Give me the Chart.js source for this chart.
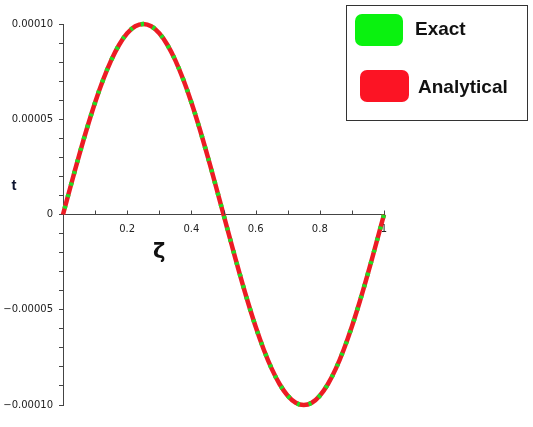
<!DOCTYPE html>
<html><head><meta charset="utf-8">
<script src="https://cdn.jsdelivr.net/npm/chart.js@4"></script>
<style>html,body{margin:0;padding:0;background:#fff}#wrap{width:533px;height:427px}</style>
</head><body><div id="wrap"><canvas id="c" width="533" height="427"></canvas></div>
<script>
// ζ values
const zeta = [0,0.025,0.05,0.075,0.1,0.125,0.15,0.175,0.2,0.225,0.25,0.275,0.3,0.325,0.35,0.375,0.4,0.425,0.45,0.475,0.5,0.525,0.55,0.575,0.6,0.625,0.65,0.675,0.7,0.725,0.75,0.775,0.8,0.825,0.85,0.875,0.9,0.925,0.95,0.975,1];
// t values (units of 1e-4)
const exactVals = [0,0.156,0.309,0.454,0.588,0.707,0.809,0.891,0.951,0.988,1.0,0.988,0.951,0.891,0.809,0.707,0.588,0.454,0.309,0.156,0,-0.156,-0.309,-0.454,-0.588,-0.707,-0.809,-0.891,-0.951,-0.988,-1.0,-0.988,-0.951,-0.891,-0.809,-0.707,-0.588,-0.454,-0.309,-0.156,0];
const analyticalVals = [0,0.156,0.309,0.454,0.588,0.707,0.809,0.891,0.951,0.988,1.0,0.988,0.951,0.891,0.809,0.707,0.588,0.454,0.309,0.156,0,-0.156,-0.309,-0.454,-0.588,-0.707,-0.809,-0.891,-0.951,-0.988,-1.0,-0.988,-0.951,-0.891,-0.809,-0.707,-0.588,-0.454,-0.309,-0.156,0];
const scaleFactor = 1e-4;
const yTickLabels = {"10":"0.00010","5":"0.00005","0":"0","-5":"\u22120.00005","-10":"\u22120.00010"};
const xTickLabels = {"2":"0.2","4":"0.4","6":"0.6","8":"0.8","10":"1"};
const seriesNames = ["Exact","Analytical"];
const xTitle = "\u03B6", yTitle = "t";

const toPts = vals => zeta.map((z,i)=>({x:z,y:vals[i]*scaleFactor}));

const overlay = {
  id:'overlay',
  afterDraw(chart){
    const ctx = chart.ctx, xs = chart.scales.x, ys = chart.scales.y;
    const y0 = ys.getPixelForValue(0);
    ctx.save();
    // x tick marks pointing upward
    ctx.strokeStyle = '#444'; ctx.lineWidth = 1;
    xs.ticks.forEach(t=>{
      if (Math.abs(t.value) < 1e-9) return;
      const px = Math.round(xs.getPixelForValue(t.value))+0.5;
      ctx.beginPath(); ctx.moveTo(px,y0); ctx.lineTo(px,y0-4); ctx.stroke();
    });
    // axis titles
    ctx.fillStyle = '#0d1530';
    ctx.font = 'bold 15px "Liberation Sans", Arial, sans-serif';
    ctx.textAlign = 'center'; ctx.textBaseline = 'middle';
    ctx.fillText(yTitle, chart.chartArea.left - 49, y0 - 29);
    ctx.font = 'bold 21px "DejaVu Sans", sans-serif';
    ctx.fillStyle = '#111';
    ctx.fillText(xTitle, xs.getPixelForValue(0.30), y0 + 38);
    // legend
    ctx.strokeStyle = '#333'; ctx.lineWidth = 1;
    ctx.strokeRect(346.5,5.5,181,115);
    const rr = (x,y,w,h,r,c)=>{ctx.fillStyle=c;ctx.beginPath();ctx.roundRect(x,y,w,h,r);ctx.fill();};
    rr(355,14,48,32,7,'#0af20f');
    rr(360,70,49,32,7,'#fc1424');
    ctx.fillStyle = '#111';
    ctx.font = 'bold 19px "Liberation Sans", Arial, sans-serif';
    ctx.textAlign = 'left'; ctx.textBaseline = 'alphabetic';
    ctx.fillText(seriesNames[0], 415, 35);
    ctx.fillText(seriesNames[1], 418, 93);
    ctx.restore();
  }
};

new Chart(document.getElementById('c'), {
  type:'scatter',
  data:{datasets:[
    {label:seriesNames[1], data:toPts(analyticalVals), showLine:true, borderColor:'#ec1c24', borderWidth:4.5, pointRadius:0, tension:0.4, order:1, clip:6},
    {label:seriesNames[0], data:toPts(exactVals), showLine:true, borderColor:'#22dd22', borderWidth:4.5, pointRadius:0, tension:0.4, borderDash:[3,9], borderDashOffset:-6, order:0, clip:6}
  ]},
  options:{
    responsive:false, animation:false,
    layout:{padding:{left:0,right:149,top:24,bottom:22}},
    plugins:{legend:{display:false}, tooltip:{enabled:false}},
    scales:{
      x:{type:'linear', min:0, max:1, position:{y:0},
        border:{display:true,color:'#444',width:1},
        grid:{display:false},
        ticks:{stepSize:0.1, autoSkip:false, maxRotation:0, padding:1, color:'#222',
          font:{family:'"DejaVu Sans", sans-serif', size:10},
          callback:v=>xTickLabels[String(Math.round(v*10))] || ''}
      },
      y:{type:'linear', min:-1e-4, max:1e-4, position:'left',
        afterFit(s){ s.width = 63; },
        border:{display:true,color:'#444',width:1},
        grid:{display:true, drawOnChartArea:false, drawTicks:true, tickLength:4, color:'#444'},
        ticks:{stepSize:1e-5, autoSkip:false, padding:6, color:'#222',
          font:{family:'"DejaVu Sans", sans-serif', size:10},
          callback:v=>yTickLabels[String(Math.round(v*1e5))] || ''}
      }
    }
  },
  plugins:[overlay]
});
</script></body></html>
